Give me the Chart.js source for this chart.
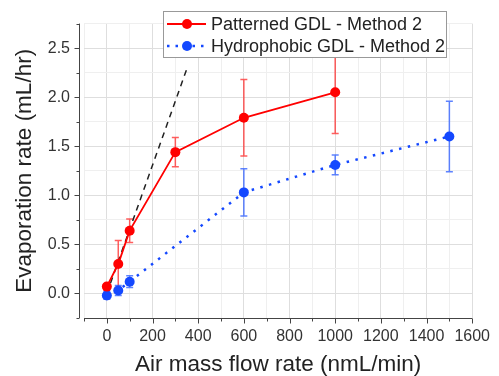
<!DOCTYPE html>
<html>
<head>
<meta charset="utf-8">
<script src="https://cdn.jsdelivr.net/npm/chart.js@4"></script>
<style>
  html, body { margin: 0; padding: 0; background: #fff; }
  #wrap { width: 499px; height: 376px; }
</style>
</head>
<body>
<div id="wrap"><canvas id="evapChart" width="499" height="376"></canvas></div>
<script>
// Patterned GDL - Method 2
const patternedX = [0, 50, 100, 300, 600, 1000];
const patternedY = [0.07, 0.30, 0.64, 1.44, 1.79, 2.05];
const patternedErr = [0.03, 0.24, 0.12, 0.15, 0.39, 0.42];

// Hydrophobic GDL - Method 2
const hydroX = [0, 50, 100, 600, 1000, 1500];
const hydroY = [-0.02, 0.03, 0.12, 1.03, 1.31, 1.60];
const hydroErr = [0.04, 0.05, 0.06, 0.24, 0.10, 0.36];

// dashed guide line
const guideX = [0, 352];
const guideY = [0, 2.30];

// labelled ticks
const xTickLabels = [0, 200, 400, 600, 800, 1000, 1200, 1400, 1600];
const yTickLabels = [0, 0.5, 1.0, 1.5, 2.0, 2.5];

const legendLabels = ['Patterned GDL - Method 2', 'Hydrophobic GDL - Method 2'];

const RED = '#ff0000';
const BLUE = '#1448ff';
const FONT = "'Liberation Sans', Arial, sans-serif";

function toPoints(xs, ys) {
    return xs.map((x, i) => ({ x: x, y: ys[i] }));
}

function isMajorX(v) { return xTickLabels.includes(v); }
function isMajorY(v) { return yTickLabels.some(t => Math.abs(t - v) < 1e-9); }

// error bars, drawn under the markers
const errorBars = {
    id: 'errorBars',
    beforeDatasetsDraw(chart) {
        const ctx = chart.ctx;
        const xs = chart.scales.x, ys = chart.scales.y;
        const sets = [
            { x: patternedX, y: patternedY, e: patternedErr, color: 'rgba(255,40,40,0.75)' },
            { x: hydroX, y: hydroY, e: hydroErr, color: 'rgba(40,90,255,0.75)' }
        ];
        ctx.save();
        ctx.lineWidth = 1.5;
        sets.forEach(s => {
            ctx.strokeStyle = s.color;
            s.x.forEach((xv, i) => {
                const px = xs.getPixelForValue(xv);
                const top = ys.getPixelForValue(s.y[i] + s.e[i]);
                const bot = ys.getPixelForValue(s.y[i] - s.e[i]);
                ctx.beginPath();
                ctx.moveTo(px, top); ctx.lineTo(px, bot);
                ctx.moveTo(px - 3.5, top); ctx.lineTo(px + 3.5, top);
                ctx.moveTo(px - 3.5, bot); ctx.lineTo(px + 3.5, bot);
                ctx.stroke();
            });
        });
        ctx.restore();
    }
};

// offset axis lines and tick marks (Origin style)
const axesFrame = {
    id: 'axesFrame',
    afterDatasetsDraw(chart) {
        const ctx = chart.ctx;
        const a = chart.chartArea;
        const xs = chart.scales.x, ys = chart.scales.y;
        const yAxisX = a.left - 4.5;
        const xAxisY = a.bottom + 0.5;
        ctx.save();
        ctx.strokeStyle = '#444';
        ctx.lineWidth = 1;
        ctx.beginPath();
        ctx.moveTo(yAxisX, a.top); ctx.lineTo(yAxisX, a.bottom);
        ctx.moveTo(a.left, xAxisY); ctx.lineTo(a.right, xAxisY);
        ys.ticks.forEach(t => {
            const py = Math.round(ys.getPixelForValue(t.value)) + 0.5;
            const len = isMajorY(t.value) ? 5 : 3;
            ctx.moveTo(yAxisX - len, py); ctx.lineTo(yAxisX, py);
        });
        xs.ticks.forEach(t => {
            const px = Math.round(xs.getPixelForValue(t.value)) + 0.5;
            const len = isMajorX(t.value) ? 5 : 3;
            ctx.moveTo(px, xAxisY); ctx.lineTo(px, xAxisY + len);
        });
        ctx.stroke();
        ctx.restore();
    }
};

// legend box inside the plot
const boxLegend = {
    id: 'boxLegend',
    afterDraw(chart) {
        const ctx = chart.ctx;
        const bx = 163.5, by = 11.5, bw = 283, bh = 46;
        ctx.save();
        ctx.fillStyle = '#fff';
        ctx.fillRect(bx, by, bw, bh);
        ctx.strokeStyle = '#999';
        ctx.lineWidth = 1;
        ctx.strokeRect(bx, by, bw, bh);
        const rows = [
            { y: 24, color: RED, dash: [] , width: 2 },
            { y: 46, color: BLUE, dash: [2.5, 6], width: 2.5 }
        ];
        rows.forEach((r, i) => {
            ctx.strokeStyle = r.color;
            ctx.lineWidth = r.width;
            ctx.setLineDash(r.dash);
            ctx.beginPath();
            ctx.moveTo(167, r.y); ctx.lineTo(206, r.y);
            ctx.stroke();
            ctx.setLineDash([]);
            ctx.fillStyle = r.color;
            ctx.beginPath();
            ctx.arc(187, r.y, 5, 0, Math.PI * 2);
            ctx.fill();
            ctx.fillStyle = '#222';
            ctx.font = '18px ' + FONT;
            ctx.textBaseline = 'middle';
            ctx.textAlign = 'left';
            ctx.fillText(legendLabels[i], 211, r.y + 1);
        });
        ctx.restore();
    }
};

const ctx = document.getElementById('evapChart').getContext('2d');
new Chart(ctx, {
    type: 'line',
    data: {
        datasets: [
            {
                label: legendLabels[0],
                data: toPoints(patternedX, patternedY),
                borderColor: RED,
                backgroundColor: RED,
                borderWidth: 1.8,
                pointRadius: 5,
                pointBorderWidth: 0,
                tension: 0
            },
            {
                label: legendLabels[1],
                data: toPoints(hydroX, hydroY),
                borderColor: BLUE,
                backgroundColor: BLUE,
                borderWidth: 2.5,
                borderDash: [2.5, 6.5],
                pointRadius: 5,
                pointBorderWidth: 0,
                tension: 0
            },
            {
                label: 'guide',
                data: toPoints(guideX, guideY),
                borderColor: '#222',
                borderWidth: 1.5,
                borderDash: [6, 5],
                pointRadius: 0,
                tension: 0
            }
        ]
    },
    options: {
        responsive: false,
        animation: false,
        layout: { padding: { top: 23, right: 19, left: 0, bottom: 0 } },
        plugins: {
            legend: { display: false },
            tooltip: { enabled: false }
        },
        scales: {
            x: {
                type: 'linear',
                min: -100,
                max: 1600,
                border: { display: false },
                grid: {
                    drawTicks: false,
                    lineWidth: 1,
                    color: c => isMajorX(c.tick.value) ? '#dedede' : '#efefef'
                },
                ticks: {
                    stepSize: 100,
                    padding: 9,
                    color: '#333',
                    font: { family: FONT, size: 16 },
                    maxRotation: 0,
                    autoSkip: false,
                    callback: v => isMajorX(v) ? String(v) : ''
                },
                title: {
                    display: true,
                    text: 'Air mass flow rate (nmL/min)',
                    color: '#222',
                    font: { family: FONT, size: 22.5 },
                    padding: { top: 0, bottom: -2 }
                },
                afterFit: s => { s.height = 58; }
            },
            y: {
                type: 'linear',
                min: -0.25,
                max: 2.75,
                border: { display: false },
                grid: {
                    drawTicks: false,
                    lineWidth: 1,
                    color: c => isMajorY(c.tick.value) ? '#dedede' : '#efefef'
                },
                ticks: {
                    stepSize: 0.25,
                    padding: 14,
                    color: '#333',
                    font: { family: FONT, size: 16 },
                    autoSkip: false,
                    callback: v => isMajorY(v) ? v.toFixed(1) : ''
                },
                title: {
                    display: true,
                    text: 'Evaporation rate (mL/hr)',
                    color: '#222',
                    font: { family: FONT, size: 22.5 },
                    padding: { top: 11, bottom: 0 }
                },
                afterFit: s => { s.width = 84; }
            }
        }
    },
    plugins: [errorBars, axesFrame, boxLegend]
});
</script>
</body>
</html>
